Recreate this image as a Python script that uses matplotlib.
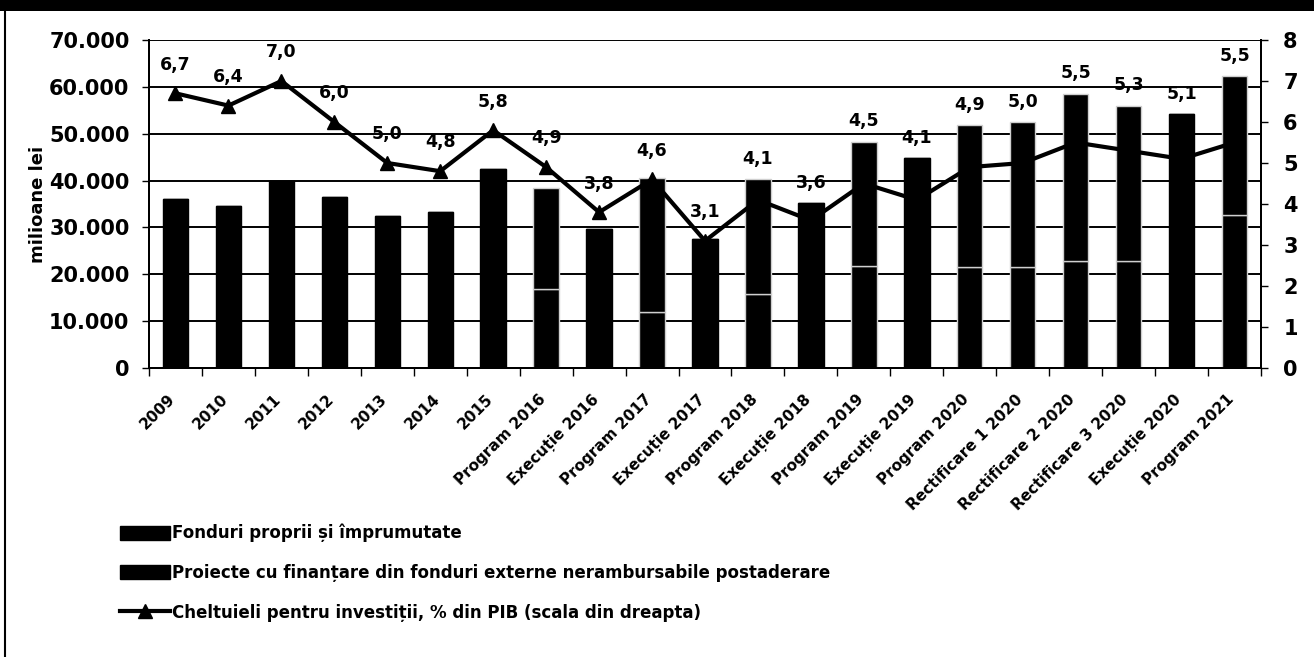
import matplotlib
matplotlib.use("Agg")
import matplotlib.pyplot as plt
import matplotlib.transforms as mtransforms
from matplotlib.lines import Line2D
from matplotlib.patches import Patch, Rectangle
import numpy as np

categories = [
    "2009", "2010", "2011", "2012", "2013", "2014", "2015",
    "Program 2016", "Execuție 2016", "Program 2017", "Execuție 2017",
    "Program 2018", "Execuție 2018", "Program 2019", "Execuție 2019",
    "Program 2020", "Rectificare 1 2020", "Rectificare 2 2020",
    "Rectificare 3 2020", "Execuție 2020", "Program 2021",
]
# total bar height (milioane lei)
total = [36000, 34500, 39900, 36400, 32500, 33300, 42500,
         38500, 29600, 40500, 27600, 40300, 35200, 48300, 44800,
         51800, 52500, 58500, 56000, 54200, 62300]
# Fonduri proprii si imprumutate (lower segment)
fonduri = [36000, 34500, 39900, 36400, 32500, 33300, 42500,
           16800, 29600, 11900, 27600, 15700, 35200, 21800, 44800,
           21500, 21500, 22800, 22800, 54200, 32600]
# investment spending, % of GDP (right scale)
pib = [6.7, 6.4, 7.0, 6.0, 5.0, 4.8, 5.8, 4.9, 3.8, 4.6, 3.1,
       4.1, 3.6, 4.5, 4.1, 4.9, 5.0, 5.5, 5.3, 5.1, 5.5]

proiecte = [t - f for t, f in zip(total, fonduri)]

FONT = "DejaVu Sans"
plt.rcParams["font.family"] = FONT

fig = plt.figure(figsize=(13.14, 6.57), dpi=100)
ax = fig.add_axes([149 / 1314, 1 - 368 / 657, (1261 - 149) / 1314, (368 - 40) / 657])
ax2 = ax.twinx()

x = np.arange(len(categories))
edges = ["#cfcfcf" if p > 0 else "black" for p in proiecte]
ax.bar(x, fonduri, width=0.48, color="black", edgecolor=edges, linewidth=1.0, zorder=3)
ax.bar(x, proiecte, width=0.48, bottom=fonduri, color="black", edgecolor=edges,
       linewidth=1.0, zorder=3)

ax.set_xlim(-0.5, len(categories) - 0.5)
ax.set_ylim(0, 70000)
ax.set_yticks(range(0, 70001, 10000))
ax.set_yticklabels(["0" if v == 0 else f"{v // 1000}.000" for v in range(0, 70001, 10000)],
                   fontsize=15, fontweight="bold")
ax.grid(axis="y", color="black", linewidth=1.4, zorder=1)
ax.set_axisbelow(True)
ax.set_ylabel("milioane lei", fontsize=13, fontweight="bold")
ax.yaxis.set_label_coords(-0.092, 0.5)

# ticks between categories, labels centred under the bars
ax.set_xticks(np.arange(-0.5, len(categories), 1.0), minor=False)
ax.set_xticklabels([])
ax.tick_params(axis="x", which="major", length=6, width=1, direction="out")
ax.set_xticks(x, minor=True)
ax.set_xticklabels(categories, minor=True, rotation=45, ha="right",
                   rotation_mode="anchor", fontsize=11, fontweight="bold")
ax.tick_params(axis="x", which="minor", length=0, pad=17)
shift = mtransforms.ScaledTranslation(-8 / 100, 0, fig.dpi_scale_trans)
for lbl in ax.get_xticklabels(minor=True):
    lbl.set_transform(lbl.get_transform() + shift)
ax.tick_params(axis="y", length=5, width=1, direction="out", pad=9)

ax.spines["top"].set_visible(False)
ax2.spines["top"].set_visible(False)
for sp in ["left", "bottom", "right"]:
    ax.spines[sp].set_linewidth(1.4)
    ax2.spines[sp].set_linewidth(1.4)

ax2.set_ylim(0, 8)
ax2.set_yticks(range(0, 9))
ax2.set_yticklabels([str(v) for v in range(0, 9)], fontsize=15, fontweight="bold")
ax2.tick_params(axis="y", length=5, width=1, direction="out", pad=11)
ax2.plot(x, pib, color="black", linewidth=3, marker="^", markersize=10, zorder=5)

scale = 8 / 70000
for xi, v, t in zip(x, pib, total):
    ly = max(v + 0.7, t * scale + 0.5)
    ax2.text(xi, ly, f"{v:.1f}".replace(".", ","), ha="center", va="center",
             fontsize=12.5, fontweight="bold", zorder=6)

handles = [
    Patch(facecolor="black", edgecolor="black"),
    Patch(facecolor="black", edgecolor="black"),
    Line2D([0], [0], color="black", linewidth=3, marker="^", markersize=10),
]
labels = [
    "Fonduri proprii și împrumutate",
    "Proiecte cu finanțare din fonduri externe nerambursabile postaderare",
    "Cheltuieli pentru investiții, % din PIB (scala din dreapta)",
]
fig.legend(handles, labels, loc="upper left", bbox_to_anchor=(120 / 1314, 1 - 524 / 657),
           frameon=False, borderpad=0, borderaxespad=0, handlelength=3.0,
           handleheight=0.9, handletextpad=0.15, labelspacing=1.3,
           prop={"family": FONT, "weight": "bold", "size": 12})

# page frame from the scanned document
fig.patches.append(Rectangle((0, 1 - 11 / 657), 1, 11 / 657, transform=fig.transFigure,
                             facecolor="black", edgecolor="none"))
fig.lines.append(Line2D([5 / 1314, 5 / 1314], [0, 1 - 11 / 657], transform=fig.transFigure,
                        color="black", linewidth=1.5))

fig.savefig("out.png", dpi=100)
